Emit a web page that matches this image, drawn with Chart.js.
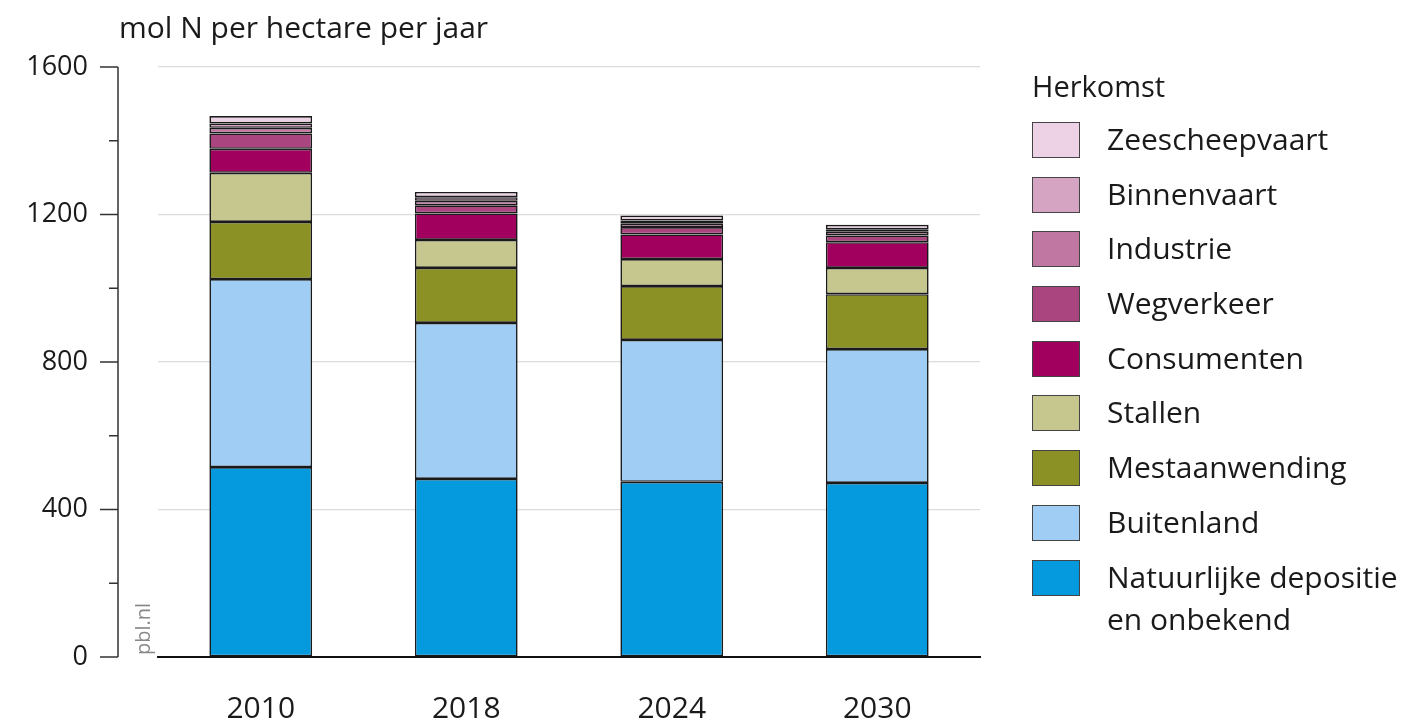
<!DOCTYPE html>
<html>
<head>
<meta charset="utf-8">
<script src="https://cdn.jsdelivr.net/npm/chart.js@4.4.1/dist/chart.umd.min.js"></script>
<style>
  body { margin: 0; background: #fff; font-family: "Open Sans", sans-serif; }
  #wrap { position: relative; width: 1414px; height: 723px; }
  #title { position: absolute; left: 119px; top: 6px; font-size: 30px; color: #1a1a1a; }
  #legend { position: absolute; left: 1032px; top: 66px; color: #1a1a1a; }
  #legend .kop { font-size: 29px; line-height: 40px; margin-bottom: 16px; }
  #legend .item { display: flex; align-items: flex-start; height: 54.7px; }
  #legend .box { width: 46px; height: 34px; border: 1.5px solid #444; box-sizing: content-box; margin-right: 27px; flex: none; }
  #legend .txt { font-size: 30px; line-height: 42px; margin-top: -4px; }
</style>
</head>
<body>
<div id="wrap">
  <canvas id="chart" width="1414" height="723"></canvas>
  <div id="title">mol N per hectare per jaar</div>
  <div id="legend"></div>
</div>
<script>
// Jaren en bijdragen per herkomst (mol N per hectare per jaar)
const jaren = ["2010", "2018", "2024", "2030"];
const natuurlijk = [515, 483, 475, 472];
const buitenland = [510, 423, 385, 363];
const mestaanwending = [155, 149, 146, 149];
const stallen = [133, 76, 73, 71];
const consumenten = [65, 72, 67, 70];
const wegverkeer = [42, 22, 20, 18];
const industrie = [15, 12, 10, 10];
const binnenvaart = [12, 10, 8, 7];
const zeescheepvaart = [20, 14, 13, 12];
const yTicks = [0, 400, 800, 1200, 1600];

const series = [
  { label: ["Natuurlijke depositie", "en onbekend"], data: natuurlijk, color: "#0599de" },
  { label: "Buitenland", data: buitenland, color: "#a0cdf3" },
  { label: "Mestaanwending", data: mestaanwending, color: "#8b9125" },
  { label: "Stallen", data: stallen, color: "#c6c78e" },
  { label: "Consumenten", data: consumenten, color: "#a1005f" },
  { label: "Wegverkeer", data: wegverkeer, color: "#aa4580" },
  { label: "Industrie", data: industrie, color: "#c077a1" },
  { label: "Binnenvaart", data: binnenvaart, color: "#d5a4c2" },
  { label: "Zeescheepvaart", data: zeescheepvaart, color: "#ecd2e4" }
];

// eigen y-as links van het plotvlak, plus pbl.nl
const asPlugin = {
  id: "asPlugin",
  afterDraw(chart) {
    const ctx = chart.ctx;
    const y = chart.scales.y;
    const x0 = chart.chartArea.left - 40;
    ctx.save();
    ctx.strokeStyle = "#333";
    ctx.lineWidth = 1.5;
    ctx.beginPath();
    ctx.moveTo(x0, y.getPixelForValue(0));
    ctx.lineTo(x0, y.getPixelForValue(1600));
    for (let v = 0; v <= 1600; v += 200) {
      const py = y.getPixelForValue(v);
      ctx.moveTo(v % 400 === 0 ? x0 - 18 : x0 - 9, py);
      ctx.lineTo(x0, py);
    }
    ctx.stroke();
    ctx.translate(x0 + 26, y.getPixelForValue(0) - 2);
    ctx.rotate(-Math.PI / 2);
    ctx.fillStyle = "#888";
    ctx.font = "20px 'Open Sans'";
    ctx.textBaseline = "middle";
    ctx.fillText("pbl.nl", 0, 0);
    ctx.restore();
  }
};

const chart = new Chart(document.getElementById("chart"), {
  type: "bar",
  data: {
    labels: jaren,
    datasets: series.map(s => ({
      label: s.label,
      data: s.data,
      backgroundColor: s.color,
      borderColor: "#1a1a1a",
      borderWidth: 1.6,
      borderSkipped: false,
      barPercentage: 0.5,
      categoryPercentage: 1
    }))
  },
  options: {
    responsive: false,
    animation: false,
    layout: { padding: { top: 67, right: 434, bottom: 0, left: 0 } },
    plugins: { legend: { display: false }, tooltip: { enabled: false } },
    scales: {
      x: {
        stacked: true,
        grid: { display: false },
        border: { color: "#111", width: 2 },
        ticks: { color: "#1a1a1a", font: { family: "Open Sans", size: 30 }, padding: 26 },
        afterFit(scale) { scale.height = 66; }
      },
      y: {
        stacked: true,
        min: 0,
        max: 1600,
        afterBuildTicks(scale) { scale.ticks = yTicks.map(v => ({ value: v })); },
        grid: {
          drawTicks: true,
          tickLength: 66,
          tickColor: "rgba(0,0,0,0)",
          color: ctx => ctx.tick.value === 0 ? "rgba(0,0,0,0)" : "#dcdcdc",
          lineWidth: 1.2
        },
        border: { display: false },
        ticks: {
          color: "#1a1a1a",
          font: { family: "Open Sans", size: 27 },
          padding: 4,
          callback: v => String(v)
        },
        afterFit(scale) { scale.width = 158; }
      }
    }
  },
  plugins: [asPlugin]
});

// legenda, omgekeerde volgorde
const leg = document.getElementById("legend");
let html = '<div class="kop">Herkomst</div>';
series.slice().reverse().forEach(s => {
  const t = Array.isArray(s.label) ? s.label.join("<br>") : s.label;
  html += '<div class="item"><div class="box" style="background:' + s.color + '"></div><div class="txt">' + t + '</div></div>';
});
leg.innerHTML = html;
</script>
</body>
</html>
